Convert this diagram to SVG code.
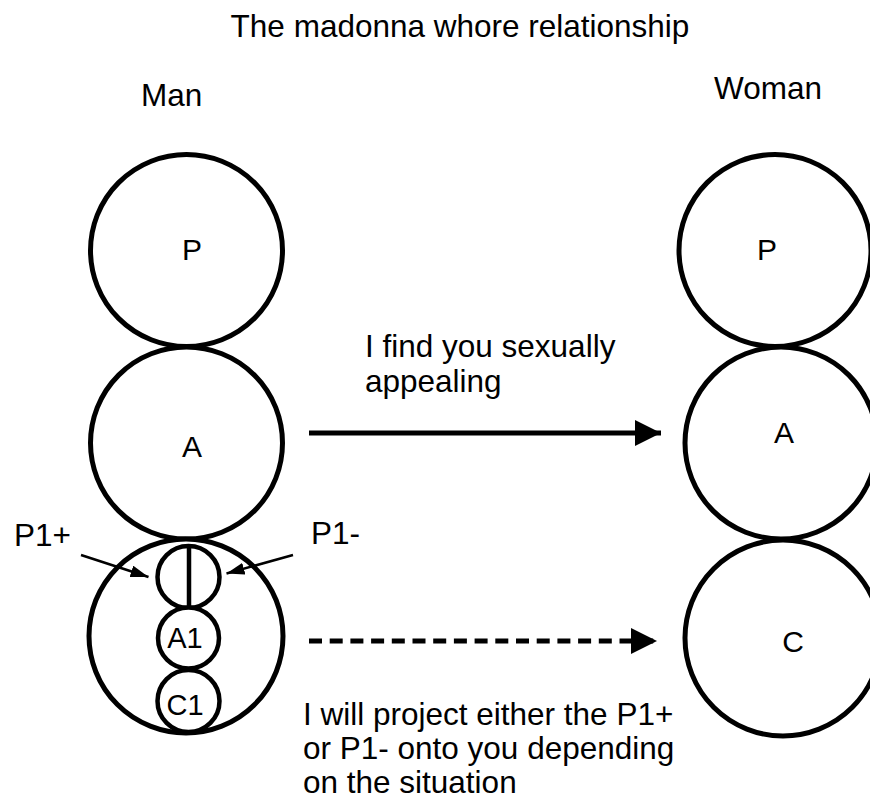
<svg xmlns="http://www.w3.org/2000/svg" width="870" height="800" viewBox="0 0 870 800">
  <defs>
    <style>
      text { font-family: "Liberation Sans", Arial, Helvetica, sans-serif; fill: #000; }
      .t { font-size: 31.5px; }
      .lbl { font-size: 30px; }
      .sm { font-size: 29px; }
      .ego { fill: #fff; stroke: #000; stroke-width: 5; }
      .sub { fill: #fff; stroke: #000; stroke-width: 4.5; }
      .link { stroke: #000; stroke-width: 5; fill: none; }
      .thin { stroke: #000; stroke-width: 2.5; fill: none; }
    </style>
    <marker id="head" markerUnits="userSpaceOnUse" viewBox="0 0 26 26" refX="26" refY="13" markerWidth="26" markerHeight="26" orient="auto">
      <path d="M0,0 L26,13 L0,26 Z" fill="#000"/>
    </marker>
    <marker id="headSmall" markerUnits="userSpaceOnUse" viewBox="0 0 18 12" refX="18" refY="6" markerWidth="18" markerHeight="12" orient="auto">
      <path d="M0,0 L18,6 L0,12 Z" fill="#000"/>
    </marker>
  </defs>
  <rect width="870" height="800" fill="#fff"/>

  <text class="t" x="460" y="37" text-anchor="middle">The madonna whore relationship</text>
  <text class="t" x="141" y="106">Man</text>
  <text class="t" x="714" y="99">Woman</text>

  <!-- Man: ego states -->
  <g id="man-p">
    <circle class="ego" cx="186.5" cy="250.5" r="96"/>
    <text class="lbl" x="192" y="260" text-anchor="middle">P</text>
  </g>
  <g id="man-a">
    <circle class="ego" cx="186.5" cy="443" r="96"/>
    <text class="lbl" x="192" y="457" text-anchor="middle">A</text>
  </g>
  <g id="man-c">
    <circle class="ego" cx="186" cy="636" r="97"/>
  </g>
  <g id="man-p1">
    <circle class="sub" cx="188.5" cy="577" r="31"/>
    <line x1="189" y1="546" x2="189" y2="608" stroke="#000" stroke-width="4.5"/>
  </g>
  <g id="man-a1">
    <circle class="sub" cx="188.5" cy="638" r="30.5"/>
    <text class="sm" x="185" y="648" text-anchor="middle">A1</text>
  </g>
  <g id="man-c1">
    <circle class="sub" cx="188.5" cy="701" r="31"/>
    <text class="sm" x="185" y="715" text-anchor="middle">C1</text>
  </g>

  <!-- Woman: ego states -->
  <g id="woman-p">
    <circle class="ego" cx="775" cy="250.5" r="96"/>
    <text class="lbl" x="767" y="260" text-anchor="middle">P</text>
  </g>
  <g id="woman-a">
    <circle class="ego" cx="781" cy="443" r="96"/>
    <text class="lbl" x="784" y="443" text-anchor="middle">A</text>
  </g>
  <g id="woman-c">
    <circle class="ego" cx="783" cy="638" r="98"/>
    <text class="lbl" x="793" y="652" text-anchor="middle">C</text>
  </g>

  <!-- P1 pointer labels -->
  <text class="t" x="14" y="546">P1+</text>
  <text class="t" x="311" y="544">P1-</text>

  <!-- Connectors -->
  <g id="connectors">
    <line class="link" x1="309" y1="433" x2="661" y2="433" marker-end="url(#head)"/>
    <line class="link" x1="309" y1="641" x2="657" y2="641" stroke-dasharray="13 7.7" marker-end="url(#head)"/>
    <line class="thin" x1="81" y1="555" x2="148.5" y2="577" marker-end="url(#headSmall)"/>
    <line class="thin" x1="293" y1="555" x2="226.5" y2="573.5" marker-end="url(#headSmall)"/>
  </g>

  <!-- Transaction captions -->
  <text class="t" x="365" y="357">I find you sexually</text>
  <text class="t" x="365" y="392">appealing</text>
  <text class="t" x="303" y="725">I will project either the P1+</text>
  <text class="t" x="303" y="759">or P1- onto you depending</text>
  <text class="t" x="303" y="793">on the situation</text>
</svg>
